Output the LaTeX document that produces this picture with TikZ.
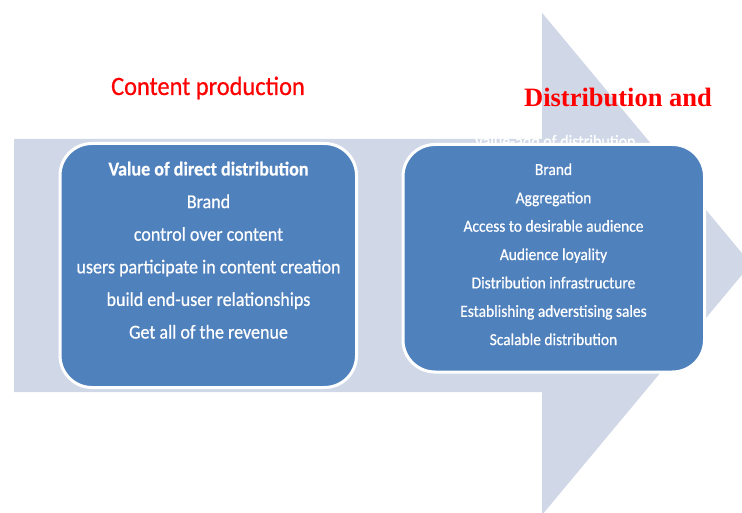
\documentclass[tikz,border=0pt]{standalone}
\usepackage{fontspec}
\usepackage{tikz}
\newfontfamily\calibrifont[FakeStretch=0.92,FakeBold=0.6]{Carlito}
\newfontfamily\timesfont{Liberation Serif}
\definecolor{arrowgrey}{RGB}{208,216,232}
\definecolor{boxblue}{RGB}{79,129,189}
\newcommand{\titlered}{\color{red}}
\tikzset{
  valuebox/.style={rectangle, rounded corners=32pt, fill=boxblue, draw=white, line width=3pt, inner sep=0pt},
  lefttext/.style={anchor=base, text=white, inner sep=0pt, font=\calibrifont\fontsize{19.6}{22}\selectfont},
  righttext/.style={anchor=base, text=white, inner sep=0pt, font=\calibrifont\fontsize{16.8}{19}\selectfont},
}

\begin{document}
\begin{tikzpicture}[x=1pt,y=-1pt]
\useasboundingbox (0,0) rectangle (742,513);
\clip (0,0) rectangle (742,513);
% big arrow behind everything
\fill[arrowgrey] (14,139)--++(528,0)--++(0,-126.3)--(751,264)--(542,515)--++(0,-123)--++(-528,0)--cycle;
\node[anchor=base, inner sep=0pt, font=\calibrifont\fontsize{26.5}{30}\selectfont\titlered] (prodtitle) at (208,95) {Content production};
\node[anchor=base, inner sep=0pt, font=\timesfont\bfseries\fontsize{26.5}{30}\selectfont\titlered] (disttitle) at (618,107) {Distribution and};
\node[righttext, font=\calibrifont\fontsize{17.4}{19}\selectfont] (valueadd) at (555,147) {Value-add of distribution};
% the two boxes
\node[valuebox, minimum width=296.5pt, minimum height=244pt] (production) at (208.25,265.5) {};
\node[valuebox, minimum width=301.5pt, minimum height=227.5pt] (distribution) at (553.75,258.25) {};
\node[lefttext, font=\calibrifont\bfseries\fontsize{19.6}{22}\selectfont] (left0) at (208.5,175.5) {Value of direct distribution};
\foreach \txt [count=\i] in {Brand, control over content, users participate in content creation, build end-user relationships, Get all of the revenue}
  \node[lefttext] (left\i) at (208.5,175.5+32.6*\i) {\txt};
\foreach \txt [count=\i from 0] in {Brand, Aggregation, Access to desirable audience, Audience loyality, Distribution infrastructure, Establishing adverstising sales, Scalable distribution}
  \node[righttext] (right\i) at (553.5,175+28.35*\i) {\txt};
\end{tikzpicture}
\end{document}
